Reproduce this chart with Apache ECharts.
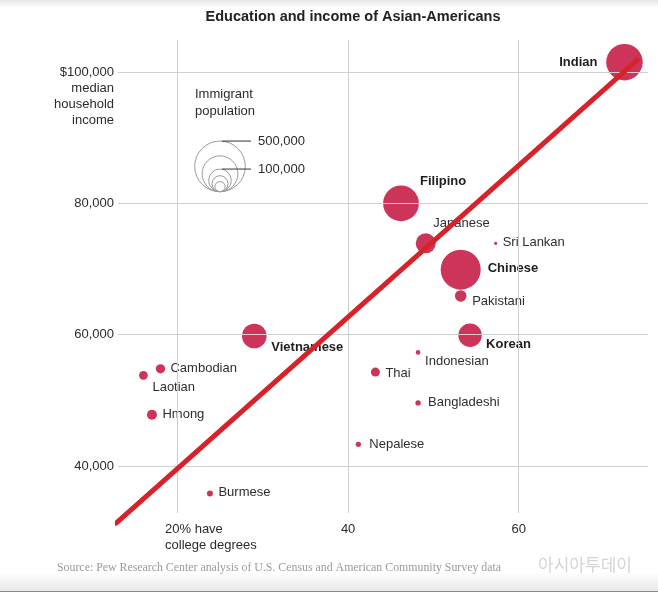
<!DOCTYPE html>
<html><head><meta charset="utf-8">
<script src="https://cdn.jsdelivr.net/npm/echarts@6/dist/echarts.min.js"></script>
<style>html,body{margin:0;padding:0;background:#fff}#c{width:658px;height:594px}</style>
</head><body><div id="c"></div>
<script>
// ---- data ----
const groups = ['Indian','Filipino','Japanese','Sri Lankan','Chinese','Pakistani','Korean','Indonesian','Thai','Bangladeshi','Nepalese','Vietnamese','Cambodian','Laotian','Hmong','Burmese'];
const collegePct = [72.4,46.2,49.1,57.3,53.2,53.2,54.3,48.2,43.2,48.2,41.2,29.0,18.0,16.0,17.0,23.8];
const medianIncome = [101500,80000,73900,73900,69900,65900,59900,57300,54300,49600,43300,59800,54800,53800,47800,35800];
const immigrantPop = [260000,250000,78000,2000,312000,26000,107000,4000,16000,5600,5600,118000,17000,15000,19500,7000];
const boldGroups = ['Indian','Filipino','Chinese','Korean','Vietnamese'];
const xTicks = [20,40,60];
const xTickLabels = ['20% have\ncollege degrees','40','60'];
const yTicks = [40000,60000,80000,100000];
const yTickLabels = ['40,000','60,000','80,000','$100,000\nmedian\nhousehold\nincome'];
const legendPops = [500000,250000,100000,50000,20000];
const legendLabelPops = [500000,100000];
const legendLabelText = ['500,000','100,000'];
const trendX = [12.8,73.9];
const trendY = [31300,101800];
const titleText = 'Education and income of Asian-Americans';
const sourceText = 'Source: Pew Research Center analysis of U.S. Census and American Community Survey data';
const watermarkText = '아시아투데이';

// ---- styles / placement ----
const X_MIN = 13.02, X_MAX = 75.16, Y_MIN = 32840, Y_MAX = 104870;
const SANS = '"Liberation Sans", Arial, sans-serif';
const TICK_COLOR = '#2b2b2b';
const labelPlace = {
  'Indian': ['right', -27, 0],
  'Filipino': ['left', 19, -22],
  'Japanese': ['left', 7.5, -20],
  'Sri Lankan': ['left', 7, -1],
  'Chinese': ['left', 27, -1],
  'Pakistani': ['left', 11.5, 5.5],
  'Korean': ['left', 16, 9],
  'Indonesian': ['left', 7, 9.5],
  'Thai': ['left', 10, 1],
  'Bangladeshi': ['left', 10, -1],
  'Nepalese': ['left', 11, 0],
  'Vietnamese': ['left', 17, 11.5],
  'Cambodian': ['left', 10, 0],
  'Laotian': ['left', 9, 12.5],
  'Hmong': ['left', 10.5, 0],
  'Burmese': ['left', 8.5, -1]
};
const K = 0.0358;
const radiusOf = p => K * Math.sqrt(p);

const bubbleData = groups.map((g, i) => {
  const pl = labelPlace[g];
  const bold = boldGroups.includes(g);
  return {
    name: g,
    value: [collegePct[i], medianIncome[i], immigrantPop[i]],
    label: {
      show: true, position: 'inside', align: pl[0], verticalAlign: 'middle',
      offset: [pl[1], pl[2]], formatter: g,
      color: bold ? '#1e1e1e' : '#2e2e2e', fontWeight: bold ? 'bold' : 'normal',
      fontSize: 13, fontFamily: SANS
    }
  };
});

const xLabelData = xTicks.map((v, i) => ({
  value: [v, Y_MIN],
  label: i === 0 ? { align: 'left', offset: [-12.5, 0] } : {}
}));
const yLabelData = yTicks.map((v, i) => ({
  value: [X_MIN, v],
  label: yTickLabels[i].indexOf('\n') >= 0 ? { verticalAlign: 'top', offset: [0, -8] } : {}
}));

// legend graphics
const LCX = 220, LBOTTOM = 191.7;
const legendGraphics = [];
legendPops.forEach(p => {
  const r = radiusOf(p);
  legendGraphics.push({ type: 'circle', silent: true, shape: { cx: LCX, cy: LBOTTOM - r, r: r },
    style: { fill: 'none', stroke: '#9a9a9a', lineWidth: 1 } });
});
legendLabelPops.forEach((p, i) => {
  const top = LBOTTOM - 2 * radiusOf(p);
  legendGraphics.push({ type: 'line', silent: true, shape: { x1: LCX + 2, y1: top, x2: 251, y2: top },
    style: { stroke: '#333', lineWidth: 1 } });
  legendGraphics.push({ type: 'text', silent: true, x: 258, y: top,
    style: { text: legendLabelText[i], font: '13px ' + SANS, fill: TICK_COLOR, textVerticalAlign: 'middle' } });
});

const tickLabelStyle = {
  show: true, color: TICK_COLOR, opacity: 1, fontSize: 13, lineHeight: 16, fontFamily: SANS
};

const chart = echarts.init(document.getElementById('c'), null, { renderer: 'canvas' });
chart.setOption({
  animation: false,
  backgroundColor: '#fff',
  grid: { left: 118, right: 10, top: 40, bottom: 81 },
  xAxis: { type: 'value', min: X_MIN, max: X_MAX, show: false },
  yAxis: { type: 'value', min: Y_MIN, max: Y_MAX, show: false },
  graphic: [
    { type: 'rect', silent: true, z: -10, shape: { x: 0, y: 0, width: 658, height: 8 },
      style: { fill: new echarts.graphic.LinearGradient(0, 0, 0, 1, [{ offset: 0, color: '#e6e6e6' }, { offset: 1, color: '#ffffff' }]) } },
    { type: 'rect', silent: true, z: -10, shape: { x: 0, y: 572, width: 658, height: 19 },
      style: { fill: new echarts.graphic.LinearGradient(0, 0, 0, 1, [{ offset: 0, color: '#ffffff' }, { offset: 1, color: '#e8e8e8' }]) } },
    { type: 'line', silent: true, shape: { x1: 0, y1: 591.5, x2: 658, y2: 591.5 }, style: { stroke: '#8a8a8a', lineWidth: 1 } },
    { type: 'text', silent: true, x: 353, y: 17,
      style: { text: titleText, font: 'bold 14.5px ' + SANS, fill: '#222', textAlign: 'center', textVerticalAlign: 'middle' } },
    { type: 'text', silent: true, x: 195, y: 103,
      style: { text: 'Immigrant\npopulation', font: '13px ' + SANS, fill: TICK_COLOR, lineHeight: 17, textVerticalAlign: 'middle' } },
    ...legendGraphics,
    { type: 'text', silent: true, x: 57, y: 567.5,
      style: { text: sourceText, font: '11.85px "Liberation Serif", "DejaVu Serif", serif', fill: '#9a9a9a', textVerticalAlign: 'middle' } },
    { type: 'text', silent: true, x: 585, y: 565,
      style: { text: watermarkText, font: '17px "Noto Sans CJK KR", sans-serif', fill: '#d4d4d4', textAlign: 'center', textVerticalAlign: 'middle' } }
  ],
  series: [
    {
      name: 'xTicks', type: 'scatter', symbolSize: 0, clip: false, silent: true, z: 1,
      itemStyle: { opacity: 1 },
      data: xLabelData,
      label: Object.assign({ position: 'bottom', distance: 8, formatter: p => xTickLabels[p.dataIndex] }, tickLabelStyle),
      markLine: {
        silent: true, symbol: ['none', 'none'], animation: false,
        label: { show: false },
        lineStyle: { color: '#cfcfcf', width: 1, type: 'solid' },
        emphasis: { disabled: true },
        data: xTicks.map(v => ({ xAxis: v })).concat(yTicks.map(v => ({ yAxis: v })))
      }
    },
    {
      name: 'yTicks', type: 'scatter', symbolSize: 0, clip: false, silent: true, z: 1,
      itemStyle: { opacity: 1 },
      data: yLabelData,
      label: Object.assign({ position: 'left', distance: 4, align: 'right', formatter: p => yTickLabels[p.dataIndex] }, tickLabelStyle)
    },
    {
      name: 'groups', type: 'scatter', clip: false, z: 3,
      symbolSize: v => 2 * radiusOf(v[2]),
      itemStyle: { color: '#cc3459', opacity: 1 },
      emphasis: { disabled: true },
      data: bubbleData
    },
    {
      name: 'trend', type: 'line', clip: false, z: 6, symbol: 'none', silent: true,
      lineStyle: { color: '#d8222a', width: 5, cap: 'round' },
      data: trendX.map((x, i) => [x, trendY[i]])
    }
  ]
});
</script>
</body></html>
